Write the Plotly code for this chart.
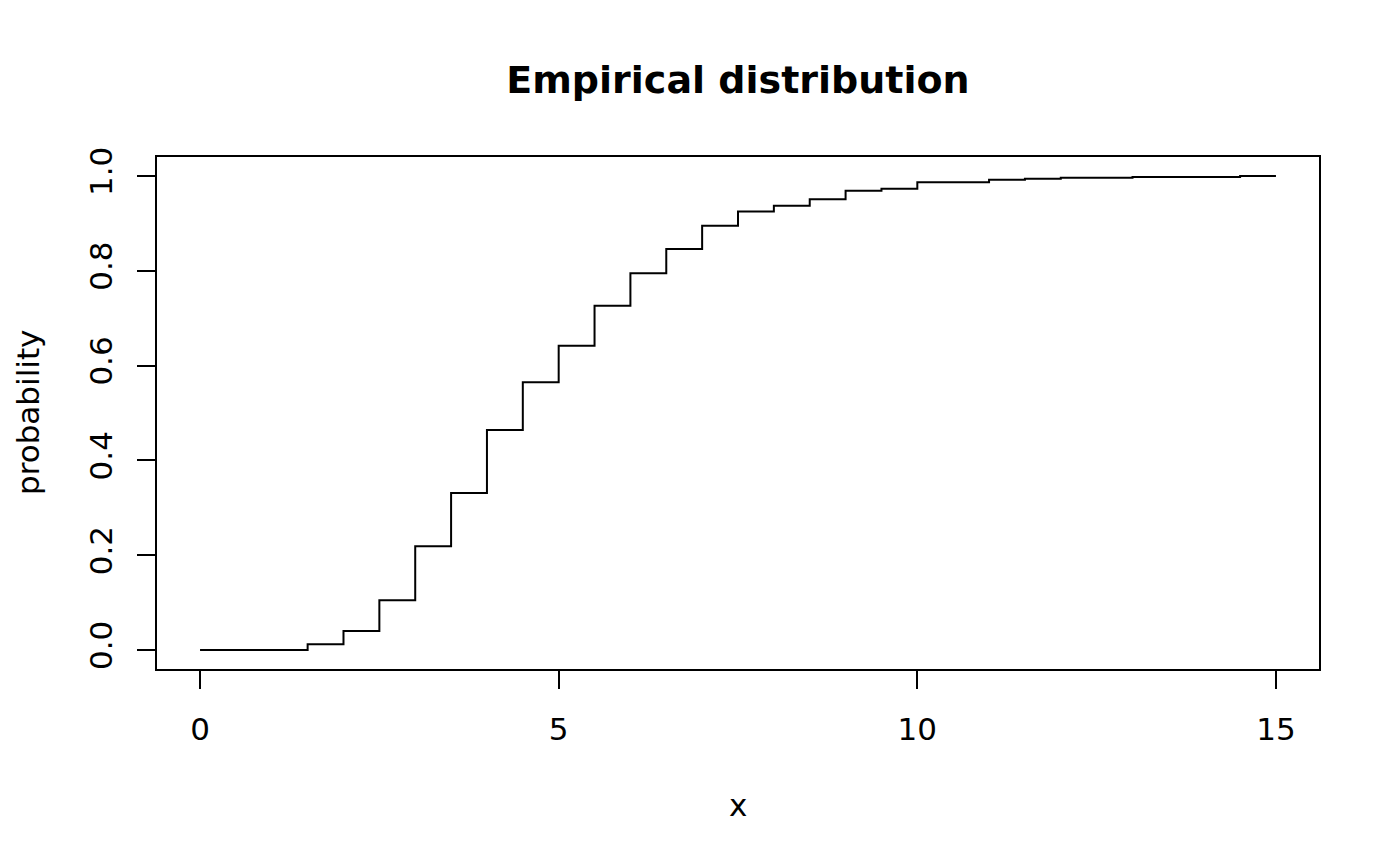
import plotly.graph_objects as go

# jump points of the empirical cdf and the cumulative probability from there on
x_steps = [0, 1.5, 2, 2.5, 3, 3.5, 4, 4.5, 5, 5.5, 6, 6.5, 7, 7.5, 8, 8.5,
           9, 9.5, 10, 11, 11.5, 12, 13, 14.5, 15]
cum_prob = [0.0, 0.012, 0.040, 0.105, 0.219, 0.331, 0.464, 0.565, 0.642,
            0.726, 0.795, 0.846, 0.895, 0.925, 0.937, 0.951, 0.969, 0.973,
            0.987, 0.992, 0.994, 0.996, 0.998, 1.0, 1.0]

x_ticks = [0, 5, 10, 15]
y_ticks = [0.0, 0.2, 0.4, 0.6, 0.8, 1.0]
y_tick_text = ["0.0", "0.2", "0.4", "0.6", "0.8", "1.0"]

FONT = "DejaVu Sans"
PAGE_OFFSET = 8  # default body margin of the html page

fig = go.Figure()
fig.add_trace(
    go.Scatter(
        x=x_steps,
        y=cum_prob,
        mode="lines",
        line=dict(color="black", width=2, shape="hv"),
        showlegend=False,
        hoverinfo="x+y",
    )
)

axis_common = dict(
    showline=True,
    linecolor="black",
    linewidth=2,
    mirror=True,
    ticks="outside",
    ticklen=18,
    tickwidth=2,
    tickcolor="black",
    showgrid=False,
    zeroline=False,
    tickfont=dict(family=FONT, size=31, color="black"),
)

fig.update_layout(
    width=1400,
    height=866,
    plot_bgcolor="white",
    paper_bgcolor="white",
    margin=dict(l=157 - PAGE_OFFSET, r=81 + PAGE_OFFSET,
                t=157 - PAGE_OFFSET, b=197 + PAGE_OFFSET),
    title=dict(
        text="<b>Empirical distribution</b>",
        x=0.5,
        xref="paper",
        y=1 - (80 - PAGE_OFFSET) / 866,
        yref="container",
        yanchor="middle",
        font=dict(family=FONT, size=38, color="black"),
    ),
    xaxis=dict(
        range=[-0.6, 15.6],
        tickvals=x_ticks,
        ticklabelstandoff=14,
        **axis_common,
    ),
    yaxis=dict(
        range=[-0.04, 1.04],
        tickvals=y_ticks,
        ticktext=y_tick_text,
        tickangle=-90,
        ticklabelstandoff=13,
        **axis_common,
    ),
    annotations=[
        dict(
            text="x", xref="paper", yref="paper", x=0.5, y=-0.2656,
            xanchor="center", yanchor="middle", showarrow=False,
            font=dict(family=FONT, size=31, color="black"),
        ),
        dict(
            text="probability", xref="paper", yref="paper", x=-0.111, y=0.5,
            xanchor="center", yanchor="middle", textangle=-90, showarrow=False,
            font=dict(family=FONT, size=31, color="black"),
        ),
    ],
)

fig.write_html("out.html")
